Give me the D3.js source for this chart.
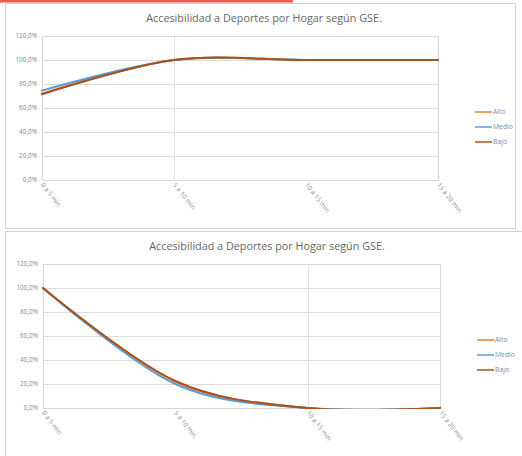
<!DOCTYPE html>
<html>
<head>
<meta charset="utf-8">
<script src="https://cdn.jsdelivr.net/npm/d3@7"></script>
<style>
  body { margin: 0; background: #fff; }
  svg { display: block; font-family: "Open Sans", "Noto Sans", sans-serif; }
</style>
</head>
<body>
<div id="chart"></div>
<script>
var width = 522,
    height = 456;

var categories = ["0 a 5 min", "5 a 10 min", "10 a 15 min", "15 a 20 min"];
var seriesNames = ["Alto", "Medio", "Bajo"];
var seriesColors = ["#ED7D31", "#5B9BD5", "#A9521A"];
var yTicks = [0, 0.2, 0.4, 0.6, 0.8, 1.0, 1.2];
var titleText = "Accesibilidad a Deportes por Hogar según GSE.";

// first chart (top)
var alto1 = [0.72, 1.0, 1.0, 1.0];
var medio1 = [0.745, 1.0, 1.0, 1.0];
var bajo1 = [0.715, 1.0, 1.0, 1.0];

// second chart (bottom)
var alto2 = [1.0, 0.22, 0.0, 0.0];
var medio2 = [1.0, 0.20, 0.0, 0.0];
var bajo2 = [1.0, 0.225, 0.0, 0.0];

var svg = d3.select("#chart").append("svg")
    .attr("width", width)
    .attr("height", height);

// red strip at the very top of the screenshot
svg.append("rect")
    .attr("x", 0).attr("y", 0)
    .attr("width", 293).attr("height", 2.5)
    .attr("fill", "#EE5A4F");

var chartCount = 0;

function drawChart(cfg) {
  var g = svg.append("g");
  chartCount++;

  // chart panel
  g.append("rect")
      .attr("x", cfg.panel[0] + 0.5).attr("y", cfg.panel[1] + 0.5)
      .attr("width", cfg.panel[2]).attr("height", cfg.panel[3])
      .attr("fill", "#fff")
      .attr("stroke", "#d0d0d0");

  var x = d3.scalePoint()
      .domain(categories)
      .range([cfg.left, cfg.right])
      .padding(0);

  var y = d3.scaleLinear()
      .domain([0, 1.2])
      .range([cfg.bottom, cfg.top]);

  // Excel clips the series to the plot area
  var clipId = "plotclip" + chartCount;
  g.append("clipPath").attr("id", clipId)
    .append("rect")
      .attr("x", cfg.left - 2).attr("y", cfg.top - 2)
      .attr("width", cfg.right - cfg.left + 4)
      .attr("height", cfg.bottom - cfg.top + 3);

  // gridlines
  g.selectAll("line.grid")
      .data(yTicks)
      .enter().append("line")
      .attr("class", "grid")
      .attr("x1", cfg.left).attr("x2", cfg.right)
      .attr("y1", function(d) { return Math.round(y(d)) + 0.5; })
      .attr("y2", function(d) { return Math.round(y(d)) + 0.5; })
      .attr("stroke", "#dcdcdc")
      .attr("stroke-width", 1);

  // single vertical gridline seen in the screenshot
  g.append("line")
      .attr("x1", Math.round(x(categories[cfg.vline])) + 0.5)
      .attr("x2", Math.round(x(categories[cfg.vline])) + 0.5)
      .attr("y1", cfg.top).attr("y2", cfg.bottom)
      .attr("stroke", "#e0e0e0");

  // plot area border
  g.append("rect")
      .attr("x", cfg.left + 0.5).attr("y", y(1.2) + 0.5)
      .attr("width", cfg.right - cfg.left)
      .attr("height", cfg.bottom - y(1.2))
      .attr("fill", "none")
      .attr("stroke", "#d6d6d6");

  // y axis labels
  var fmt = function(d) { return d3.format(".1f")(d * 100).replace(".", ",") + "%"; };
  g.selectAll("text.ylab")
      .data(yTicks)
      .enter().append("text")
      .attr("class", "ylab")
      .attr("x", cfg.left - 5)
      .attr("y", function(d) { return y(d) + 2.2; })
      .attr("text-anchor", "end")
      .attr("font-size", 6.4)
      .attr("fill", "#8a8a8a")
      .text(fmt);

  // x axis labels, rotated
  g.selectAll("text.xlab")
      .data(categories)
      .enter().append("text")
      .attr("class", "xlab")
      .attr("transform", function(d) {
        return "translate(" + (x(d) - 1.5) + "," + (cfg.bottom + 5) + ")rotate(52)";
      })
      .attr("font-size", 6.6)
      .attr("fill", "#8a8a8a")
      .text(function(d) { return d; });

  // title
  g.append("text")
      .attr("x", cfg.titleX)
      .attr("y", cfg.titleY)
      .attr("text-anchor", "middle")
      .attr("font-size", 10.8)
      .attr("fill", "#666")
      .text(titleText);

  // lines
  var line = d3.line()
      .x(function(d, i) { return x(categories[i]); })
      .y(function(d) { return y(d); })
      .curve(d3.curveCardinal.tension(0));

  var lines = g.append("g").attr("clip-path", "url(#" + clipId + ")");
  cfg.series.forEach(function(s, k) {
    lines.append("path")
        .datum(s)
        .attr("d", line)
        .attr("fill", "none")
        .attr("stroke", seriesColors[k])
        .attr("stroke-width", 2)
        .attr("stroke-linecap", "round");
  });

  // legend
  seriesNames.forEach(function(n, k) {
    var ly = cfg.legendY + k * 15;
    g.append("line")
        .attr("x1", cfg.legendX).attr("x2", cfg.legendX + 17)
        .attr("y1", ly).attr("y2", ly)
        .attr("stroke", seriesColors[k])
        .attr("stroke-width", 1.5);
    g.append("text")
        .attr("x", cfg.legendX + 18)
        .attr("y", ly + 2.3)
        .attr("font-size", 6.8)
        .attr("fill", "#8a8a8a")
        .text(n);
  });
}

drawChart({
  panel: [5, 3, 510, 225],
  left: 42, right: 438, top: 36, bottom: 180,
  vline: 1,
  titleX: 264, titleY: 22,
  legendX: 475, legendY: 112,
  series: [alto1, medio1, bajo1]
});

drawChart({
  panel: [5, 231, 520, 230],
  left: 43, right: 440, top: 264, bottom: 408,
  vline: 2,
  titleX: 267, titleY: 250,
  legendX: 477, legendY: 340,
  series: [alto2, medio2, bajo2]
});
</script>
</body>
</html>
